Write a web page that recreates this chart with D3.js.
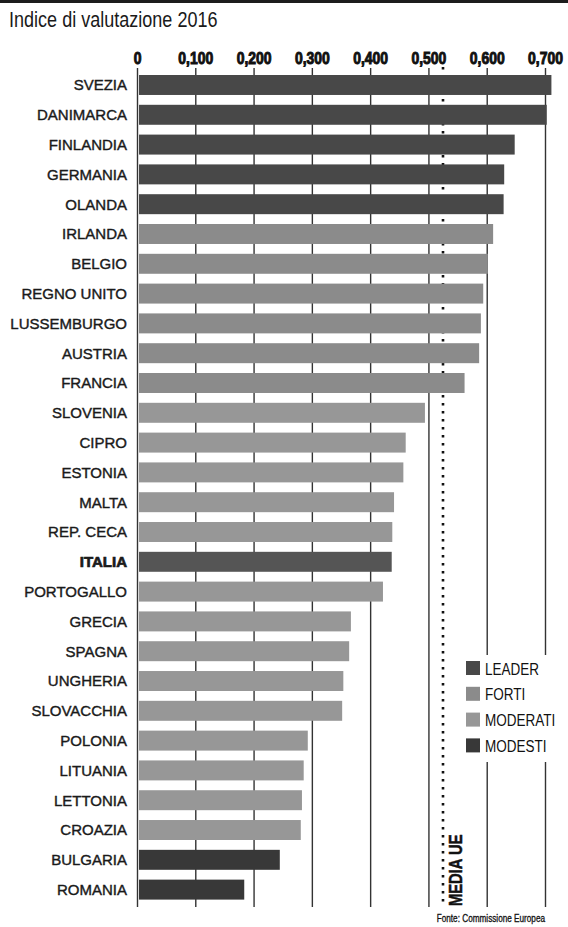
<!DOCTYPE html>
<html>
<head>
<meta charset="utf-8">
<script src="https://cdn.jsdelivr.net/npm/d3@7"></script>
<style>
  html, body { margin: 0; padding: 0; background: #fff; }
  #chart { width: 568px; height: 927px; }
</style>
</head>
<body>
<div id="chart"></div>
<script>
const countries = [
  "SVEZIA", "DANIMARCA", "FINLANDIA", "GERMANIA", "OLANDA",
  "IRLANDA", "BELGIO", "REGNO UNITO", "LUSSEMBURGO", "AUSTRIA", "FRANCIA",
  "SLOVENIA", "CIPRO", "ESTONIA", "MALTA", "REP. CECA", "ITALIA", "PORTOGALLO",
  "GRECIA", "SPAGNA", "UNGHERIA", "SLOVACCHIA", "POLONIA", "LITUANIA",
  "LETTONIA", "CROAZIA", "BULGARIA", "ROMANIA",
];
const values = [
  0.711, 0.703, 0.648, 0.630, 0.629,
  0.611, 0.602, 0.594, 0.590, 0.587, 0.562,
  0.494, 0.461, 0.457, 0.441, 0.438, 0.437, 0.422,
  0.367, 0.364, 0.354, 0.352, 0.293, 0.286,
  0.283, 0.281, 0.245, 0.184,
];
const groups = [
  "LEADER", "LEADER", "LEADER", "LEADER", "LEADER",
  "FORTI", "FORTI", "FORTI", "FORTI", "FORTI", "FORTI",
  "MODERATI", "MODERATI", "MODERATI", "MODERATI", "MODERATI", "MODERATI", "MODERATI",
  "MODERATI", "MODERATI", "MODERATI", "MODERATI", "MODERATI", "MODERATI",
  "MODERATI", "MODERATI", "MODESTI", "MODESTI",
];
const groupNames = ["LEADER", "FORTI", "MODERATI", "MODESTI"];
const groupColours = ["#484848", "#8b8b8b", "#979797", "#383838"];
const tickValues = [0, 0.1, 0.2, 0.3, 0.4, 0.5, 0.6, 0.7];
const euAverage = 0.525;
const highlighted = "ITALIA";

// no condensed face is installed, so squeeze Liberation Sans horizontally
const font = "'Liberation Sans', Arial, sans-serif";
const squeeze = "scale(0.82,1)";

const width = 568;
const height = 927;
const gridTop = 68;
const gridBottom = 907;

const svg = d3.select("#chart")
  .append("svg")
  .attr("width", width)
  .attr("height", height)
  .style("font-family", font);

svg.append("rect")
  .attr("width", width)
  .attr("height", 3)
  .attr("fill", "#1c1c1c");

svg.append("text")
  .attr("transform", `translate(9,27) ${squeeze}`)
  .style("font-size", "22px")
  .attr("fill", "#1a1a1a")
  .text("Indice di valutazione 2016");

const x = d3.scaleLinear().domain([0, 0.7]).range([137, 545]);
const y = d3.scaleBand()
  .domain(countries)
  .range([75, 899.6])
  .paddingInner(0.33)
  .paddingOuter(0);
const colour = d3.scaleOrdinal().domain(groupNames).range(groupColours);

// grid lines + tick labels
const axis = svg.append("g")
  .attr("transform", `translate(0,${gridTop})`)
  .call(
    d3.axisTop(x)
      .tickValues(tickValues)
      .tickSizeInner(-(gridBottom - gridTop))
      .tickSizeOuter(0)
      .tickPadding(4)
      .tickFormat((d) => (d === 0 ? "0" : d3.format(".3f")(d).replace(".", ","))),
  );
axis.select(".domain").remove();
axis.selectAll(".tick line")
  .attr("stroke", "#333")
  .attr("stroke-width", 1.4);
axis.selectAll(".tick text")
  .attr("transform", squeeze)
  .style("font-family", font)
  .style("font-size", "17px")
  .style("font-weight", "bold")
  .attr("fill", "#111")
  .attr("stroke", "#111")
  .attr("stroke-width", 1);

// EU average
svg.append("line")
  .attr("x1", x(euAverage))
  .attr("x2", x(euAverage))
  .attr("y1", gridTop - 1)
  .attr("y2", gridBottom)
  .attr("stroke", "#111")
  .attr("stroke-width", 2.6)
  .attr("stroke-dasharray", "2.4,5.6");

svg.append("g")
  .selectAll("rect")
  .data(countries)
  .join("rect")
  .attr("x", x(0) + 2)
  .attr("y", (d) => y(d))
  .attr("width", (d, i) => x(values[i]) - x(0) - 2)
  .attr("height", y.bandwidth())
  .attr("fill", (d, i) => (d === highlighted ? "#555555" : colour(groups[i])));

svg.append("g")
  .selectAll("text")
  .data(countries)
  .join("text")
  .attr("x", 127)
  .attr("y", (d) => y(d) + y.bandwidth() / 2)
  .attr("dy", "0.36em")
  .attr("text-anchor", "end")
  .style("font-size", "15px")
  .style("font-weight", (d) => (d === highlighted ? "bold" : "normal"))
  .attr("fill", "#1a1a1a")
  .attr("stroke", "#1a1a1a")
  .attr("stroke-width", (d) => (d === highlighted ? 0.7 : 0.4))
  .text((d) => d);

// legend
const legend = svg.append("g");
legend.append("rect")
  .attr("x", 458)
  .attr("y", 655)
  .attr("width", 110)
  .attr("height", 107)
  .attr("fill", "#fff");
const items = legend.selectAll("g")
  .data(groupNames)
  .join("g")
  .attr("transform", (d, i) => `translate(466,${661 + i * 25.8})`);
items.append("rect")
  .attr("width", 14)
  .attr("height", 14)
  .attr("fill", (d) => colour(d));
items.append("text")
  .attr("transform", `translate(19,13.5) ${squeeze}`)
  .style("font-size", "16.5px")
  .attr("fill", "#111")
  .text((d) => d);

svg.append("text")
  .attr("transform", `translate(462,906) rotate(-90) ${squeeze}`)
  .style("font-size", "18px")
  .style("font-weight", "bold")
  .attr("fill", "#111")
  .attr("stroke", "#111")
  .attr("stroke-width", 0.5)
  .text("MEDIA UE");

svg.append("text")
  .attr("transform", `translate(545,922) ${squeeze}`)
  .attr("text-anchor", "end")
  .style("font-size", "10px")
  .attr("fill", "#111")
  .attr("stroke", "#111")
  .attr("stroke-width", 0.3)
  .text("Fonte: Commissione Europea");
</script>
</body>
</html>
